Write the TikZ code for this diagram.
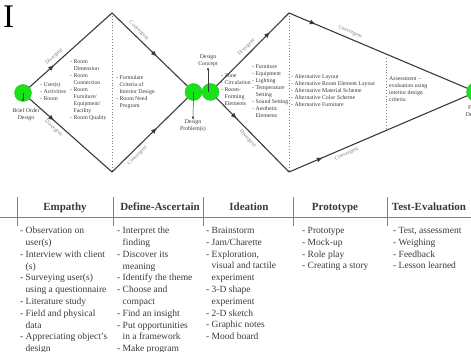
\documentclass[tikz,border=0pt]{standalone}
\usepackage{fontspec}
\setmainfont{Liberation Serif}
\usetikzlibrary{arrows.meta,decorations.markings}
\definecolor{leaf}{RGB}{24,226,24}
\definecolor{ink}{RGB}{58,58,58}
\tikzset{
  greendot/.style={circle,fill=leaf,draw=leaf!80!black,line width=0.3pt,minimum size=17pt,inner sep=0pt},
  flowline/.style={draw=ink,line width=1.1pt,postaction={decorate},
    decoration={markings,mark=at position #1 with {\arrow{Latex[length=6pt,width=5pt]}}}},
  smalltxt/.style={font=\fontsize{5.8}{7}\selectfont,text=ink,align=left,inner sep=0pt,anchor=north west},
  edgelbl/.style={font=\fontsize{5.4}{6}\selectfont,text=gray,sloped,inner sep=3.2pt},
  centertxt/.style={font=\fontsize{5.8}{7}\selectfont,text=ink,align=center,inner sep=0pt},
  colhead/.style={font=\fontsize{11}{12}\selectfont\bfseries,text=ink,anchor=base},
  colbody/.style={font=\fontsize{9.5}{11.8}\selectfont,text=ink,align=left,inner sep=0pt,anchor=north west},
  tablerule/.style={draw=gray,line width=0.6pt},
  guide/.style={draw=gray,dotted,line width=0.9pt},
  inarrow/.style={draw=ink,line width=0.5pt,-{Latex[length=3pt,width=2.5pt]}}
}
\newcommand\wrapin{\hspace*{0.58em}}
\begin{document}
\begin{tikzpicture}[x=1pt,y=1pt]
\useasboundingbox (0,0) rectangle (471,352);
\node[anchor=base west,inner sep=0pt,font=\fontsize{33}{33}\selectfont] (title) at (3,324) {I};

% circles and corners
\node[greendot] (brief) at (23,259) {};
\node[greendot] (prob) at (193.5,260) {};
\node[greendot] (concept) at (210.5,260) {};
\node[greendot,minimum size=19pt] (final) at (476,260) {};
\coordinate (top1) at (112,339);
\coordinate (bot1) at (112,180);
\coordinate (top2) at (289,339);
\coordinate (bot2) at (289,180);
\coordinate (asstop) at (386,294);
\coordinate (assbot) at (386,222);

% dotted guides
\draw[guide] (top1) -- (bot1);
\draw[guide] (top2) -- (bot2);
\draw[guide] (asstop) -- (assbot);

% diamonds
\draw[flowline=0.3] (brief) -- node[edgelbl,above,pos=0.35]{Divergent} (top1);
\draw[flowline=0.3] (brief) -- node[edgelbl,below,pos=0.34]{Divergent} (bot1);
\draw[flowline=0.6] (top1) -- node[edgelbl,above,pos=0.3]{Convergent} (prob);
\draw[flowline=0.6] (bot1) -- node[edgelbl,below,pos=0.28]{Convergent} (prob);
\draw[flowline=0.74] (concept) -- node[edgelbl,above,pos=0.47]{Divergent} (top2);
\draw[flowline=0.28] (concept) -- node[edgelbl,below,pos=0.49]{Divergent} (bot2);
\draw[flowline=0.15] (top2) -- node[edgelbl,above,pos=0.33]{Convergent} (final);
\draw[flowline=0.19] (bot2) -- node[edgelbl,below,pos=0.31]{Convergent} (final);

% labels round the circles
\node[centertxt] (brieflbl) at (26,237) {Brief Order\\Design};
\node[centertxt] (problbl) at (193,226) {Design\\Problem(s)};
\node[centertxt] (conceptlbl) at (208,291) {Design\\Concept};
\node[centertxt] (finallbl) at (474,240) {Final\\Design};
\draw[inarrow] (brief.center) -- (brief.south);
\draw[inarrow] (prob.center) -- (problbl.north);
\draw[inarrow] (conceptlbl.south |- concept.center) -- (conceptlbl.south);

% lists in the diamonds
\node[smalltxt] (users) at (40,270) {- User(s)\\- Activities\\- Room};
\node[smalltxt] (rooms) at (70,292) {- Room\\\wrapin Dimension\\- Room\\\wrapin Connection\\- Room\\\wrapin Furniture/\\\wrapin Equipment/\\\wrapin Facility\\- Room Quality};
\node[smalltxt] (criteria) at (116,277) {- Formulate\\\wrapin Criteria of\\\wrapin Interior Design\\- Room Need\\\wrapin Program};
\node[smalltxt] (zones) at (221,278) {- Zone\\- Circulation\\- Room-\\\wrapin Forming\\\wrapin Elements};
\node[smalltxt] (fittings) at (252,288) {- Furniture\\- Equipment\\- Lighting\\- Temperature\\\wrapin Setting\\- Sound Setting\\- Aesthetic\\\wrapin Elements};
\node[smalltxt] (alts) at (291,278) {- Alternative Layout\\- Alternative Room Element Layout\\- Alternative Material Scheme\\- Alternative Color Scheme\\- Alternative Furniture};
\node[smalltxt] (assess) at (389,276) {Assessment --\\evaluation using\\interior design\\criteria};

% table
\draw[tablerule] (0,135) -- (471,135);
\foreach \x in {17,113,203,293,387}
  \draw[tablerule] (\x,155) -- (\x,126);
\node[colhead] (h1) at (65,141) {Empathy};
\node[colhead] (h2) at (160,141) {Define-Ascertain};
\node[colhead] (h3) at (249,141) {Ideation};
\node[colhead] (h4) at (335,141) {Prototype};
\node[colhead] (h5) at (429,141) {Test-Evaluation};

\node[colbody] (empathy) at (20,125) {- Observation on\\\wrapin user(s)\\- Interview with client\\\wrapin (s)\\- Surveying user(s)\\\wrapin using a questionnaire\\- Literature study\\- Field and physical\\\wrapin data\\- Appreciating object's\\\wrapin design};
\node[colbody] (define) at (117,125) {- Interpret the\\\wrapin finding\\- Discover its\\\wrapin meaning\\- Identify the theme\\- Choose and\\\wrapin compact\\- Find an insight\\- Put opportunities\\\wrapin in a framework\\- Make program};
\node[colbody] (ideation) at (206,125) {- Brainstorm\\- Jam/Charette\\- Exploration,\\\wrapin visual and tactile\\\wrapin experiment\\- 3-D shape\\\wrapin experiment\\- 2-D sketch\\- Graphic notes\\- Mood board};
\node[colbody] (prototype) at (302,125) {- Prototype\\- Mock-up\\- Role play\\- Creating a story};
\node[colbody] (testing) at (393,125) {- Test, assessment\\- Weighing\\- Feedback\\- Lesson learned};
\end{tikzpicture}
\end{document}
